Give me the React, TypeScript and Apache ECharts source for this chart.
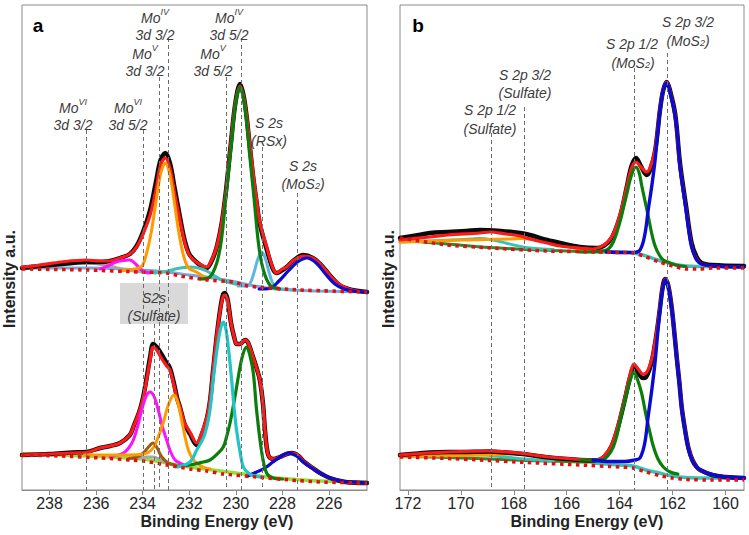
import React, { useEffect, useRef } from 'react';
import * as echarts from 'echarts';

const FONT = '"Liberation Sans", Arial, Helvetica, sans-serif';

// ---- axis ranges (binding energy, eV) ----
const aRange = [224.37, 239.18];
const bRange = [159.3, 172.3];
const yRange = [0, 485];

// ---- panel a, upper spectrum ----
const aTopDotted = [[239.18,221],[236.43,220],[234.12,218],[232.97,217],[232.4,214],[231.2,210],[230.1,208],[229.5,204],[229.09,203],[227.24,200],[224.37,198]];
const aTopSteel = [[239.18,222],[236.43,222],[234.12,220],[232.97,218],[232.0,215],[231.0,212],[230.0,208],[229.2,204],[228.3,201],[226.5,199],[224.37,198]];
const aTopGray = [[239.18,221],[238.4,222.5],[237.5,225],[236.9,226.5],[236.43,227],[235.9,226],[235.4,224],[234.9,221],[234.4,219],[234.0,218]];
const aTopMagenta = [[235.83,221],[235.5,224],[235.2,227.5],[234.85,229.5],[234.55,230],[234.3,226],[234.1,221],[233.9,218],[233.7,217]];
const aTopTeal = [[233.5,217],[233.0,218.5],[232.6,221],[232.2,222.5],[231.97,223],[231.6,222],[231.25,219],[230.9,214],[230.6,210],[230.2,207],[229.8,205]];
const aTopOrange = [[235.0,219],[234.33,221],[234.03,224],[233.83,237],[233.63,258],[233.43,288],[233.23,316],[233.03,327],[232.83,315],[232.63,286],[232.43,255],[232.23,233],[232.03,222],[231.7,218],[231.2,211]];
const aTopGreen = [[231.52,211],[231.12,213],[230.82,227],[230.62,250],[230.42,295],[230.22,340],[230.02,385],[229.82,403],[229.62,384],[229.42,338],[229.22,292],[229.02,245],[228.82,220],[228.52,204.5],[228.12,201]];
const aTopLightBlue = [[229.9,204],[229.49,204],[229.34,209],[229.19,220],[229.04,232],[228.89,238],[228.74,232],[228.59,219],[228.44,208],[228.29,203],[228.0,201],[227.5,200]];
const aTopBlue = [[229.0,201],[228.55,201.5],[228.15,209],[227.75,219],[227.35,228],[226.95,232],[226.55,227],[226.15,216],[225.75,206],[225.35,201],[224.95,199],[224.37,198]];
const aTopRed = [[239.18,223],[238.4,225],[237.5,228],[236.43,230],[235.83,229],[235.4,229],[234.97,232],[234.55,236],[234.26,243],[233.97,257],[233.68,275],[233.43,300],[233.23,325],[233.03,332],[232.83,322],[232.63,297],[232.4,270],[232.2,248],[232.0,235],[231.7,228],[231.4,224],[231.25,223],[231.0,232],[230.8,245],[230.6,268],[230.42,300],[230.22,345],[230.02,387],[229.82,404],[229.62,388],[229.42,350],[229.25,315],[229.11,290],[228.97,268],[228.68,243],[228.41,222],[228.25,217],[228.0,221],[227.82,223],[227.5,230],[227.1,234],[226.7,232],[226.3,224],[225.9,213],[225.5,205],[225.0,200],[224.37,198]];
const aTopBlack = [[239.18,222],[238.4,224],[237.5,226],[236.43,228],[235.83,228],[235.4,229],[234.97,232],[234.55,236],[234.26,244],[233.97,259],[233.68,280],[233.43,308],[233.23,330],[233.03,337],[232.83,327],[232.63,302],[232.4,273],[232.2,250],[232.0,236],[231.7,228],[231.4,223],[231.25,222],[231.0,231],[230.8,245],[230.6,268],[230.42,300],[230.22,345],[230.02,387],[229.82,406],[229.62,388],[229.42,348],[229.25,312],[229.11,288],[228.97,266],[228.68,241],[228.41,221],[228.25,217],[228.0,220],[227.82,223],[227.5,230],[227.1,235],[226.7,232],[226.3,224],[225.9,213],[225.5,204],[225.0,200],[224.37,198]];

// ---- panel a, lower spectrum ----
const aBotDotted = [[239.18,35],[237.5,34],[235.83,32],[234.0,29],[232.96,25],[231.97,21],[231.25,19],[230.54,16],[229.09,13],[227.68,10],[226.39,8],[224.37,7]];
const aBotLime = [[239.18,36],[237.5,35],[235.83,33.5],[234.0,31],[232.96,27],[231.97,23],[231.0,20],[230.0,17],[229.0,14],[227.7,11],[226.4,9],[224.37,8]];
const aBotGray = [[234.6,31.5],[234.2,32],[233.83,33],[233.55,33],[233.3,31],[232.97,27],[232.7,25]];
const aBotBrown = [[234.6,31.5],[234.26,33],[233.97,37],[233.75,43],[233.55,47],[233.38,42],[233.18,33],[232.9,27],[232.6,25]];
const aBotMagenta = [[235.4,33],[234.83,37],[234.6,42],[234.4,50],[234.2,65],[234.04,80],[233.85,94],[233.68,98],[233.5,93],[233.33,80],[233.15,63],[232.97,50],[232.8,38],[232.61,30],[232.4,27],[232.1,24]];
const aBotOrange = [[236.5,35],[235.83,35],[234.9,35],[234.12,35.5],[233.8,37],[233.55,42],[233.35,52],[233.12,67],[232.9,85],[232.66,95],[232.5,88],[232.33,70],[232.18,53],[232.04,40],[231.85,31],[231.68,27],[231.41,23],[231.1,21]];
const aBotCyan = [[232.5,23],[231.97,28],[231.68,40],[231.4,52],[231.25,63],[231.11,80],[230.97,110],[230.8,142],[230.65,162],[230.54,168],[230.42,160],[230.3,138],[230.18,110],[230.08,83],[229.97,60],[229.82,38],[229.68,23],[229.47,17],[229.2,14],[228.9,13]];
const aBotGreen = [[232.5,24],[231.97,25],[231.4,28],[231.11,30],[230.8,36],[230.54,43],[230.4,53],[230.25,67],[230.04,93],[229.82,123],[229.68,137],[229.54,143],[229.4,135],[229.25,117],[229.11,80],[228.89,38],[228.68,17],[228.4,12],[228.0,11]];
const aBotBlue = [[229.5,14],[229.11,18],[228.75,22],[228.41,28],[228.1,33],[227.75,37],[227.4,34],[227.11,28],[226.75,22],[226.39,17],[225.96,12],[225.5,9],[224.9,8],[224.37,7]];
const aBotRed = [[239.18,35],[238.0,36],[237.0,37],[236.43,37.5],[235.83,42],[235.4,44],[234.97,47],[234.55,55],[234.4,63],[234.12,80],[233.97,93],[233.83,110],[233.68,130],[233.55,143],[233.4,140],[233.2,132],[233.0,125],[232.83,120],[232.66,105],[232.51,90],[232.4,83],[232.2,67],[231.97,58],[231.68,47],[231.5,55],[231.25,72],[231.11,90],[230.97,122],[230.8,158],[230.65,183],[230.54,194],[230.47,195],[230.35,189],[230.2,166],[230.04,150],[229.97,146],[229.82,146],[229.61,150],[229.47,147],[229.25,132],[229.11,122],[228.97,110],[228.83,85],[228.75,60],[228.61,35],[228.41,31],[228.11,33],[227.82,36],[227.6,37],[227.3,34],[227.11,29],[226.7,22],[226.39,17],[225.96,12],[225.3,8],[224.37,7]];
const aBotBlack = [[239.18,35],[238.0,36],[237.0,37.5],[236.43,38],[235.83,42],[235.4,44],[234.97,47],[234.55,55],[234.4,63],[234.12,80],[233.97,94],[233.83,112],[233.68,133],[233.55,146],[233.4,143],[233.2,136],[233.0,128],[232.83,122],[232.66,107],[232.51,91],[232.4,83],[232.2,66],[231.97,56],[231.68,45],[231.5,53],[231.25,71],[231.11,89],[230.97,121],[230.8,158],[230.65,184],[230.54,196],[230.47,197],[230.35,190],[230.2,166],[230.04,150],[229.97,146],[229.82,146],[229.61,150],[229.47,147],[229.25,132],[229.11,122],[228.97,110],[228.83,85],[228.75,60],[228.61,35],[228.41,31],[228.11,33],[227.82,36],[227.6,37],[227.3,34],[227.11,29],[226.7,22],[226.39,17],[225.96,12],[225.3,8],[224.37,7]];

// ---- panel b, upper spectrum ----
const bTopDotted = [[172.3,252],[170.52,245],[168.9,242],[166.74,239],[164.86,238],[164.0,237.5],[163.46,237],[163.0,233],[162.5,228],[162.0,224],[161.5,221],[161.0,221],[160.47,222],[159.3,222]];
const bTopDkGreen = [[172.3,250],[170.5,246],[168.9,242.5],[167.5,240.5],[165.5,238.5],[164.5,238]];
const bTopTeal = [[165.0,238.5],[164.0,238],[163.46,237],[163.0,234],[162.5,229.5],[162.0,226],[161.5,224],[160.5,223.5],[159.3,223.5]];
const bTopCyan = [[172.3,248],[171.2,249],[170.3,250],[169.6,251],[169.28,251.5],[168.8,250],[168.3,247],[167.76,243.5],[167.2,241.5],[166.5,240.5]];
const bTopOrange = [[172.3,248],[171.0,249],[170.0,250],[169.0,250.5],[168.2,251],[167.65,251.5],[167.0,249.5],[166.5,246.5],[166.0,243.5],[165.5,241],[165.0,239.5],[164.5,238.5]];
const bTopGreen = [[165.5,238],[164.9,238.5],[164.49,240],[164.24,248],[163.99,268],[163.85,283],[163.73,296],[163.55,315],[163.38,323],[163.25,316],[163.17,305],[163.05,290],[162.92,274],[162.8,258],[162.66,244],[162.5,235],[162.35,230],[162.09,227],[161.8,224.5],[161.5,223.5]];
const bTopBlue = [[164.5,238],[163.8,237.5],[163.5,237.5],[163.23,240],[163.05,255],[162.92,280],[162.78,305],[162.66,330],[162.55,360],[162.47,380],[162.35,400],[162.22,407],[162.1,398],[161.9,373],[161.8,350],[161.72,323],[161.6,300],[161.49,280],[161.38,258],[161.28,243],[161.09,230],[160.9,226],[160.5,224],[159.3,223]];
const bTopRed = [[172.3,250],[171.17,253],[170.5,255],[169.28,257],[168.9,258],[168.3,256],[167.76,254],[167.39,251],[166.74,247],[166.25,244],[165.5,242],[165.0,241],[164.74,243],[164.49,247],[164.24,256],[163.99,275],[163.73,303],[163.55,322],[163.38,328],[163.2,323],[162.98,318],[162.85,322],[162.66,340],[162.47,382],[162.35,400],[162.22,408],[162.1,399],[161.9,374],[161.72,324],[161.49,281],[161.28,244],[161.09,231],[160.9,226],[160.5,224],[159.3,223]];
const bTopBlack = [[172.3,252],[171.6,255],[171.17,257],[170.5,258],[169.8,259],[169.28,260],[168.5,259],[167.76,257],[167.39,255],[166.74,250],[166.25,247],[165.5,243],[164.86,242],[164.6,244],[164.3,252],[163.99,273],[163.73,303],[163.55,324],[163.38,332],[163.2,324],[162.98,315],[162.85,320],[162.66,339],[162.47,381],[162.35,400],[162.22,408],[162.1,400],[161.9,376],[161.72,327],[161.49,284],[161.28,247],[161.09,233],[160.9,227],[160.5,225],[159.3,224]];

// ---- panel b, lower spectrum ----
const bBotDotted = [[172.3,33],[170.5,31.5],[169.28,30],[167.5,27.5],[165.5,25],[164.0,23],[163.5,22],[163.0,18],[162.5,14.5],[162.0,12],[161.5,10.5],[160.5,10],[159.3,10]];
const bBotDkGreen = [[172.3,34],[170.5,32.5],[168.9,31],[167.5,29.5],[166.0,28.5],[165.0,28],[164.5,28]];
const bBotTeal = [[165.0,27],[164.0,25],[163.5,24],[163.0,20],[162.5,17],[162.0,14],[161.5,12.5],[160.5,12],[159.3,12]];
const bBotCyan = [[172.3,34],[171.0,34.5],[169.9,35],[169.28,35.5],[168.7,34],[168.0,32],[167.4,30.5],[166.5,29]];
const bBotOrange = [[172.3,33],[171.0,34],[170.0,34.5],[169.0,35],[168.2,36],[167.65,36],[167.0,34.5],[166.3,31.5],[165.5,29.5],[165.0,28.5]];
const bBotGreen = [[165.5,30],[164.9,30],[164.62,30.5],[164.45,34],[164.24,43],[164.1,55],[163.99,68],[163.85,84],[163.73,97],[163.6,110],[163.46,118],[163.32,110],[163.17,97],[163.07,84],[162.98,72],[162.85,57],[162.73,44],[162.55,31],[162.35,23],[162.09,18],[161.8,16]];
const bBotBlue = [[165.0,30],[164.36,28.5],[163.8,28.5],[163.42,30],[163.23,32],[163.05,47],[162.92,74],[162.78,101],[162.66,128],[162.55,160],[162.47,181],[162.38,200],[162.28,210],[162.16,203],[162.03,181],[161.93,156],[161.84,131],[161.74,106],[161.65,81],[161.52,58],[161.4,41],[161.25,29],[161.09,23],[160.96,20],[160.6,16],[160.0,13],[159.3,12]];
const bBotRed = [[172.3,35],[171.17,37],[170.0,38.5],[168.9,39],[168.3,38],[167.65,36.5],[167.0,34],[166.25,32],[165.5,30.5],[165.0,30],[164.74,31],[164.55,35],[164.3,45],[164.05,66],[163.79,94],[163.61,115],[163.46,126],[163.3,121],[163.12,116],[163.0,117],[162.88,123],[162.75,135],[162.6,158],[162.47,184],[162.38,202],[162.28,211],[162.16,204],[162.03,182],[161.93,157],[161.84,132],[161.74,107],[161.65,82],[161.52,59],[161.4,42],[161.25,30],[161.09,23],[160.96,20],[160.5,15],[160.0,13],[159.3,12]];
const bBotBlack = [[172.3,35],[171.6,36.5],[171.17,37.5],[170.5,38],[170.0,38],[168.9,38.5],[168.3,37.5],[167.65,36],[167.0,33.5],[166.25,31.5],[165.5,30],[165.0,29.5],[164.74,30.5],[164.55,34],[164.3,44],[164.05,64],[163.79,92],[163.61,112],[163.46,122],[163.3,117],[163.12,112],[163.0,113],[162.88,120],[162.75,133],[162.6,157],[162.47,183],[162.38,202],[162.28,211],[162.16,204],[162.03,182],[161.93,157],[161.84,132],[161.74,107],[161.65,82],[161.52,59],[161.4,42],[161.25,30],[161.09,23],[160.96,20],[160.5,15],[160.0,13],[159.3,12]];

// ---- reference (dashed) lines: [binding energy, top value] ----
const aRefLines = [[236.43,360],[233.99,360],[233.3,413],[232.91,452],[230.42,413],[229.78,452],[228.86,343],[227.38,297],[233.51,166]];
const bRefLines = [[168.86,357],[167.61,383],[163.46,422],[162.21,437]];

const C = {
  black: '#0a0a0a', red: '#ff1a1a', orange: '#ff9a00', green: '#0a7d0a', blue: '#0a0ad2',
  cyan: '#22c4c8', lightBlue: '#5eb6e4', magenta: '#ff10ff', brown: '#9a5a14', gray: '#a6a6a6',
  lime: '#92e03a', steel: '#7aa7d6', teal: '#3cc2b4', dkGreen: '#2f8a2f', dotted: '#e01010',
};

function ln(data: number[][], color: string, width: number, gi: number, extra: any = {}) {
  return {
    type: 'line', xAxisIndex: gi, yAxisIndex: gi, data, smooth: 0.35, showSymbol: false, symbol: 'none',
    silent: true, lineStyle: { color, width, cap: 'round', join: 'round' }, ...extra,
  };
}
function dotted(data: number[][], gi: number, refs: number[][]) {
  return ln(data, C.dotted, 3.5, gi, {
    smooth: 0.2,
    lineStyle: { color: C.dotted, width: 3.5, type: [3.5, 4.5], cap: 'butt' },
    markLine: {
      silent: true, symbol: ['none', 'none'], animation: false, label: { show: false },
      lineStyle: { color: '#6e6e6e', width: 1, type: [4, 3] },
      data: refs.map(([x, y]) => [{ coord: [x, y] }, { coord: [x, 0] }]),
    },
  });
}

const TXT = '#3c3c3c';
const rich = {
  m: { fontSize: 14, fontStyle: 'italic', fontFamily: FONT, fill: TXT, color: TXT, lineHeight: 17, verticalAlign: 'bottom' },
  s: { fontSize: 9, fontStyle: 'italic', fontFamily: FONT, fill: TXT, color: TXT, lineHeight: 9, verticalAlign: 'top' },
  b: { fontSize: 9, fontStyle: 'italic', fontFamily: FONT, fill: TXT, color: TXT, lineHeight: 9, verticalAlign: 'bottom' },
};
function lbl(x: number, y: number, text: string) {
  return {
    type: 'text', x, y, z: 100, silent: true,
    style: { text, rich, fontSize: 14, fontStyle: 'italic', fontFamily: FONT, fill: TXT,
      align: 'center', verticalAlign: 'middle', textAlign: 'center', textVerticalAlign: 'middle' },
  };
}
function plain(x: number, y: number, text: string, size: number, weight: string, rot = 0, fill = '#222') {
  return {
    type: 'text', x, y, z: 100, rotation: rot, silent: true,
    style: { text, fontSize: size, fontWeight: weight, fontFamily: FONT, fill,
      align: 'center', verticalAlign: 'middle', textAlign: 'center', textVerticalAlign: 'middle' },
  };
}

const tickFmt = (v: number) => (Math.abs(v - Math.round(v)) < 1e-6 ? String(Math.round(v)) : '');

function xAx(gi: number, range: number[], split: number) {
  return {
    gridIndex: gi, type: 'value', min: range[0], max: range[1], inverse: true, splitNumber: split,
    axisLine: { show: true, onZero: false, lineStyle: { color: '#8a8a8a', width: 1 } },
    axisTick: { show: true, inside: false, length: 5, lineStyle: { color: '#8a8a8a' } },
    axisLabel: { showMinLabel: false, showMaxLabel: false, formatter: tickFmt, fontSize: 16,
      color: '#262626', fontFamily: FONT, margin: 5 },
    splitLine: { show: false },
  };
}

export default function App() {
  const ref = useRef<HTMLDivElement>(null);
  useEffect(() => {
    if (!ref.current) return;
    const chart = echarts.init(ref.current, undefined, { renderer: 'svg' });
    const series: any[] = [
      // panel a
      ln(aTopSteel, C.steel, 3, 0),
      ln(aTopGray, C.gray, 3, 0),
      ln(aBotLime, C.lime, 3.5, 0),
      ln(aBotGray, C.gray, 3, 0),
      ln(aTopBlack, C.black, 4.5, 0),
      ln(aTopRed, C.red, 3.2, 0),
      ln(aBotBlack, C.black, 4.5, 0),
      ln(aBotRed, C.red, 3.2, 0),
      ln(aTopMagenta, C.magenta, 3, 0),
      ln(aTopTeal, C.teal, 3, 0),
      ln(aTopOrange, C.orange, 3, 0),
      ln(aTopLightBlue, C.lightBlue, 3, 0),
      ln(aTopBlue, C.blue, 3.2, 0),
      ln(aTopGreen, C.green, 3.2, 0),
      ln(aBotBrown, C.brown, 3, 0),
      ln(aBotMagenta, C.magenta, 3, 0),
      ln(aBotOrange, C.orange, 3, 0),
      ln(aBotBlue, C.blue, 3.2, 0),
      ln(aBotGreen, C.green, 3.2, 0),
      ln(aBotCyan, C.cyan, 3.2, 0),
      dotted(aTopDotted, 0, aRefLines),
      dotted(aBotDotted, 0, []),
      // panel b
      ln(bTopDkGreen, C.dkGreen, 3, 1),
      ln(bTopTeal, C.teal, 3.5, 1),
      ln(bBotDkGreen, C.dkGreen, 3, 1),
      ln(bBotTeal, C.teal, 3.5, 1),
      ln(bTopCyan, C.teal, 3, 1),
      ln(bTopOrange, C.orange, 3, 1),
      ln(bBotCyan, C.teal, 3, 1),
      ln(bBotOrange, C.orange, 3, 1),
      ln(bTopBlack, C.black, 4.5, 1),
      ln(bTopRed, C.red, 3.2, 1),
      ln(bBotBlack, C.black, 4.5, 1),
      ln(bBotRed, C.red, 3.2, 1),
      ln(bTopGreen, C.green, 3.2, 1),
      ln(bTopBlue, C.blue, 3.4, 1),
      ln(bBotGreen, C.green, 3.2, 1),
      ln(bBotBlue, C.blue, 3.4, 1),
      dotted(bTopDotted, 1, bRefLines),
      dotted(bBotDotted, 1, []),
    ];

    const graphic: any[] = [
      { type: 'rect', z: 0, silent: true, shape: { x: 120, y: 283, width: 68, height: 41 }, style: { fill: '#d9d9d9' } },
      lbl(154, 296, '{m|S2s}'),
      lbl(154, 314, '{m|(Sulfate)}'),
      lbl(73, 106, '{m|Mo}{s|VI}'), lbl(73, 123, '{m|3d 3/2}'),
      lbl(128, 106, '{m|Mo}{s|VI}'), lbl(128, 123, '{m|3d 5/2}'),
      lbl(145, 52, '{m|Mo}{s|V}'), lbl(145, 69, '{m|3d 3/2}'),
      lbl(155, 16, '{m|Mo}{s|IV}'), lbl(155, 33, '{m|3d 3/2}'),
      lbl(213, 52, '{m|Mo}{s|V}'), lbl(213, 69, '{m|3d 5/2}'),
      lbl(229, 16, '{m|Mo}{s|IV}'), lbl(229, 33, '{m|3d 5/2}'),
      lbl(269, 121, '{m|S 2s}'), lbl(269, 139, '{m|(RSx)}'),
      lbl(303, 164, '{m|S 2s}'), lbl(303, 182, '{m|(MoS}{b|2}{m|)}'),
      lbl(688, 20, '{m|S 2p 3/2}'), lbl(688, 39, '{m|(MoS}{b|2}{m|)}'),
      lbl(632, 42, '{m|S 2p 1/2}'), lbl(633, 61, '{m|(MoS}{b|2}{m|)}'),
      lbl(525, 73, '{m|S 2p 3/2}'), lbl(525, 91, '{m|(Sulfate)}'),
      lbl(490, 108, '{m|S 2p 1/2}'), lbl(490, 127, '{m|(Sulfate)}'),
      plain(38, 25, 'a', 19, 'bold', 0, '#000'),
      plain(418, 25, 'b', 19, 'bold', 0, '#000'),
      plain(217, 521, 'Binding Energy (eV)', 16, 'bold'),
      plain(587, 521, 'Binding Energy (eV)', 16, 'bold'),
      plain(9, 279, 'Intensity a.u.', 16, 'bold', Math.PI / 2),
      plain(388, 279, 'Intensity a.u.', 16, 'bold', Math.PI / 2),
    ];

    chart.setOption({
      animation: false,
      backgroundColor: '#ffffff',
      grid: [
        { left: 22, top: 5, width: 345, height: 485, show: true, borderColor: '#8a8a8a', borderWidth: 1, containLabel: false },
        { left: 400, top: 5, width: 344, height: 485, show: true, borderColor: '#8a8a8a', borderWidth: 1, containLabel: false },
      ],
      xAxis: [xAx(0, aRange, 7), xAx(1, bRange, 6)],
      yAxis: [
        { gridIndex: 0, type: 'value', min: yRange[0], max: yRange[1], show: false },
        { gridIndex: 1, type: 'value', min: yRange[0], max: yRange[1], show: false },
      ],
      series,
      graphic,
    });
    return () => chart.dispose();
  }, []);
  return <div ref={ref} style={{ position: 'fixed', left: 0, top: 0, width: 749, height: 535, background: '#fff' }} />;
}
